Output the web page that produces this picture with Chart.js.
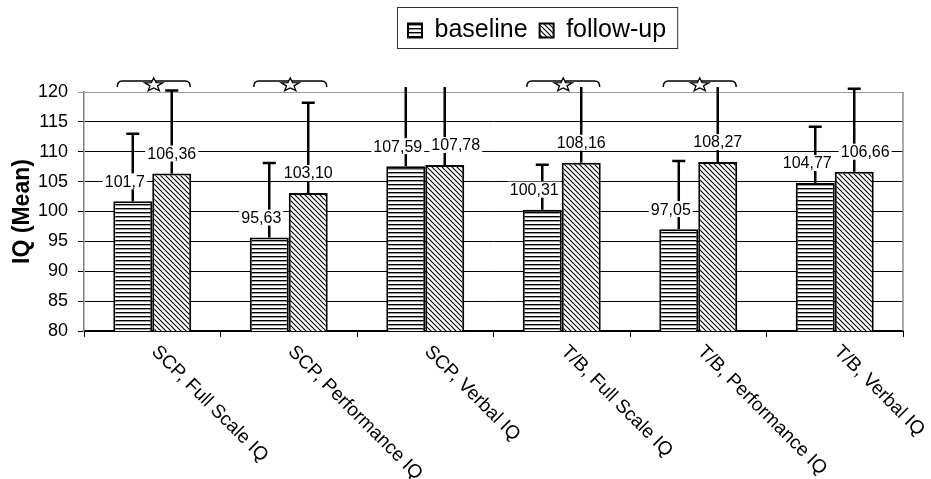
<!DOCTYPE html>
<html>
<head>
<meta charset="utf-8">
<script src="https://cdn.jsdelivr.net/npm/chart.js@4.4.0/dist/chart.umd.min.js"></script>
<style>
  html, body { margin: 0; padding: 0; background: #fff; }
</style>
</head>
<body>
<canvas id="iq-chart" width="931" height="479"></canvas>
<script>
const categories = [
    "SCP, Full Scale IQ",
    "SCP, Performance IQ",
    "SCP, Verbal IQ",
    "T/B, Full Scale IQ",
    "T/B, Performance IQ",
    "T/B, Verbal IQ"
];

// means as printed on the chart (decimal comma)
const baselineText = ["101,7", "95,63", "107,59", "100,31", "97,05", "104,77"];
const followupText = ["106,36", "103,10", "107,78", "108,16", "108,27", "106,66"];

// upper error bar lengths (SD)
const baselineSD = [11.3, 12.5, 14, 7.5, 11.4, 9.4];
const followupSD = [13.9, 15.1, 14, 13.5, 13, 13.9];

// star brackets above a category
const significant = [true, true, false, true, true, false];

const toNum = s => parseFloat(s.replace(",", "."));
const baseline = baselineText.map(toNum);
const followup = followupText.map(toNum);

const FONT = "'Liberation Sans', Arial, Helvetica, sans-serif";
Chart.defaults.font.family = FONT;
Chart.defaults.color = "#000";

const ctx = document.getElementById("iq-chart").getContext("2d");

function makeHatch(kind) {
    const size = kind === "h" ? 4 : 5;
    const c = document.createElement("canvas");
    c.width = size;
    c.height = size;
    const g = c.getContext("2d");
    g.fillStyle = "#fff";
    g.fillRect(0, 0, size, size);
    g.fillStyle = "#000";
    g.strokeStyle = "#000";
    if (kind === "h") {
        g.fillRect(0, 0, size, 1.4);
    } else {
        g.lineWidth = 1.1;
        g.beginPath();
        g.moveTo(-1, -1); g.lineTo(size + 1, size + 1);
        g.moveTo(-1, size - 1); g.lineTo(1, size + 1);
        g.moveTo(size - 1, -1); g.lineTo(size + 1, 1);
        g.stroke();
    }
    return ctx.createPattern(c, "repeat");
}

const sdByDataset = [baselineSD, followupSD];

const overlay = {
    id: "overlay",
    beforeInit(chart) {
        const fit = chart.legend.fit;
        chart.legend.fit = function () {
            fit.call(this);
            this.height += 39;
        };
    },
    afterLayout(chart) {
        const lg = chart.legend;
        const pad = lg.options.labels.padding;
        const x0 = (lg.left + pad + lg.right - lg.lineWidths[0]) / 2;
        const d = 408 - x0;
        lg.left += d;
        lg.right += d;
    },
    afterDatasetsDraw(chart) {
        const y = chart.scales.y;
        const area = chart.chartArea;
        const c = chart.ctx;
        const metas = [chart.getDatasetMeta(0), chart.getDatasetMeta(1)];

        // error bars (upper only)
        c.save();
        c.beginPath();
        c.rect(area.left, area.top - 5, area.right - area.left, area.bottom - area.top + 5);
        c.clip();
        c.strokeStyle = "#000";
        c.lineWidth = 2.5;
        metas.forEach((meta, i) => {
            meta.data.forEach((bar, k) => {
                const v = chart.data.datasets[i].data[k];
                const top = y.getPixelForValue(v + sdByDataset[i][k]);
                c.beginPath();
                c.moveTo(bar.x, bar.y);
                c.lineTo(bar.x, top);
                c.moveTo(bar.x - 6.5, top);
                c.lineTo(bar.x + 6.5, top);
                c.stroke();
            });
        });
        c.restore();

        // value labels on white boxes, follow-up label pushed right if it collides
        c.save();
        c.font = "16px " + FONT;
        c.textAlign = "center";
        c.textBaseline = "middle";
        const put = (text, lx, ly) => {
            const w = c.measureText(text).width + 4;
            c.fillStyle = "#fff";
            c.fillRect(lx - w / 2, ly - 8, w, 16);
            c.fillStyle = "#000";
            c.fillText(text, lx, ly + 1);
        };
        categories.forEach((_, k) => {
            const a = metas[0].data[k], b = metas[1].data[k];
            const ta = baselineText[k], tb = followupText[k];
            const ax = a.x - 8, ay = a.y - 20;
            let bx = b.x, by = b.y - 20;
            const wa = c.measureText(ta).width, wb = c.measureText(tb).width;
            const aRight = ax + wa / 2;
            if (Math.abs(ay - by) < 16 && bx - wb / 2 < aRight + 9) {
                bx = aRight + 9 + wb / 2;
            }
            put(ta, ax, ay);
            put(tb, bx, by);
        });
        c.restore();
    },
    afterDraw(chart) {
        const c = chart.ctx;
        const area = chart.chartArea;
        const xs = chart.scales.x;

        // right border of the plot area
        c.save();
        c.strokeStyle = "#8c8c8c";
        c.lineWidth = 1.5;
        c.beginPath();
        c.moveTo(area.right, area.top);
        c.lineTo(area.right, area.bottom);
        c.stroke();
        c.restore();

        // category labels, rotated downwards
        c.save();
        c.font = "19px " + FONT;
        c.fillStyle = "#000";
        c.textAlign = "left";
        c.textBaseline = "top";
        chart.data.labels.forEach((lab, k) => {
            const px = xs.getPixelForValue(k) + 9;
            const py = area.bottom + 11;
            c.save();
            c.translate(px, py);
            c.rotate(Math.PI / 4);
            c.fillText(lab, 0, 0);
            c.restore();
        });
        c.restore();

        // legend frame
        const lg = chart.legend;
        const hb = lg.legendHitBoxes;
        if (hb && hb.length) {
            const last = hb[hb.length - 1];
            c.save();
            c.strokeStyle = "#333";
            c.lineWidth = 1;
            c.strokeRect(hb[0].left - 10.5, 7.5, last.left + last.width + 22 - hb[0].left, 41);
            c.restore();
        }

        // significance brackets with stars
        const m0 = chart.getDatasetMeta(0);
        const m1 = chart.getDatasetMeta(1);
        c.save();
        c.strokeStyle = "#000";
        significant.forEach((s, k) => {
            if (!s) return;
            const a = m0.data[k], b = m1.data[k];
            const l = a.x - a.width / 2 + 4;
            const r = b.x + b.width / 2 - 1;
            const mid = (l + r) / 2;
            const yt = area.top - 11, yb = area.top - 5;
            c.lineWidth = 1.5;
            c.beginPath();
            c.moveTo(l, yb);
            c.quadraticCurveTo(l, yt, l + 5, yt);
            c.lineTo(r - 5, yt);
            c.quadraticCurveTo(r, yt, r, yb);
            c.stroke();

            // star
            const cx = mid, cy = area.top - 7;
            c.beginPath();
            for (let j = 0; j < 10; j++) {
                const ang = -Math.PI / 2 + j * Math.PI / 5;
                const rr = j % 2 === 0 ? 1 : 0.42;
                const px = cx + Math.cos(ang) * 9.5 * rr;
                const py = cy + Math.sin(ang) * 7 * rr;
                if (j === 0) c.moveTo(px, py); else c.lineTo(px, py);
            }
            c.closePath();
            c.fillStyle = "#fff";
            c.fill();
            c.lineWidth = 1.3;
            c.stroke();
        });
        c.restore();
    }
};

new Chart(ctx, {
    type: "bar",
    data: {
        labels: categories,
        datasets: [
            {
                label: "baseline",
                data: baseline,
                backgroundColor: makeHatch("h"),
                borderColor: "#000",
                borderWidth: 2,
                borderSkipped: false
            },
            {
                label: "follow-up",
                data: followup,
                backgroundColor: makeHatch("d"),
                borderColor: "#000",
                borderWidth: 2,
                borderSkipped: false
            }
        ]
    },
    options: {
        responsive: false,
        animation: false,
        events: [],
        layout: {
            padding: { top: 6, right: 28, left: 0, bottom: 0 }
        },
        datasets: {
            bar: {
                categoryPercentage: 0.571,
                barPercentage: 1.0
            }
        },
        scales: {
            x: {
                afterFit(scale) { scale.height = 148; },
                ticks: { display: false },
                grid: {
                    offset: true,
                    drawOnChartArea: false,
                    drawTicks: true,
                    tickLength: 6,
                    color: "#000",
                    lineWidth: 1
                },
                border: { color: "#000", width: 2 }
            },
            y: {
                min: 80,
                max: 120,
                afterFit(scale) { scale.width = 84; },
                ticks: {
                    stepSize: 5,
                    padding: 10,
                    font: { size: 18 },
                    color: "#000"
                },
                grid: {
                    color: c => (c.tick && c.tick.value === 120 ? "#9a9a9a" : "#000"),
                    lineWidth: 1,
                    tickLength: 6
                },
                border: { color: "#808080", width: 1.5 },
                title: {
                    display: true,
                    text: "IQ (Mean)",
                    font: { size: 23, weight: "bold" },
                    color: "#000",
                    padding: { top: 9, bottom: 0 }
                }
            }
        },
        plugins: {
            legend: {
                position: "top",
                labels: {
                    boxWidth: 14,
                    boxHeight: 14,
                    padding: 12,
                    color: "#000",
                    font: { size: 25 }
                }
            },
            tooltip: { enabled: false }
        }
    },
    plugins: [overlay]
});
</script>
</body>
</html>
